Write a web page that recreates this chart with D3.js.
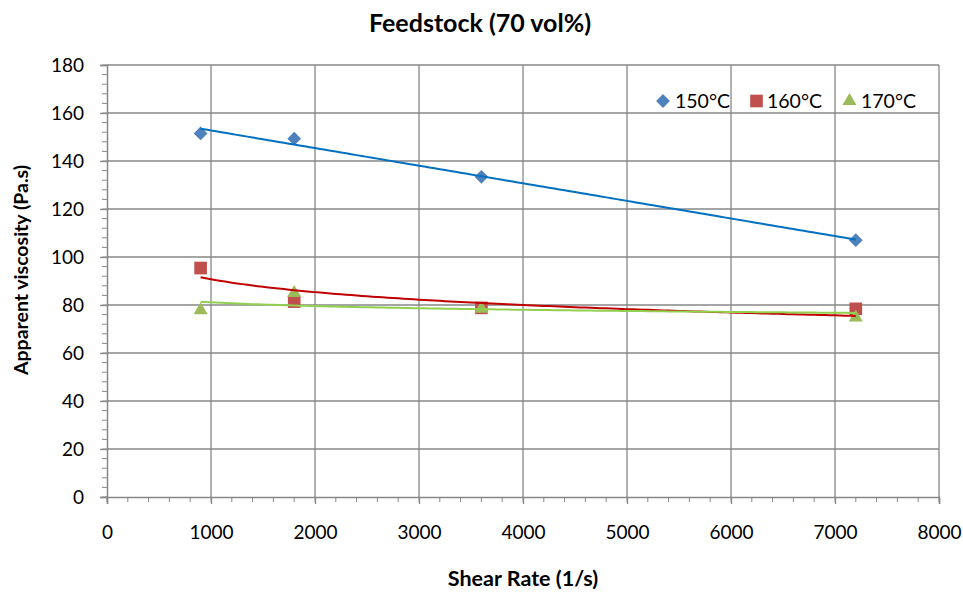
<!DOCTYPE html>
<html><head><meta charset="utf-8">
<script src="https://cdn.jsdelivr.net/npm/d3@7"></script>
<style>body{margin:0;background:#fff}svg{display:block}text{font-family:Lato,"Open Sans",sans-serif}</style>
</head><body>
<svg id="c" width="963" height="593"></svg>
<script>
const shearRate = [900, 1800, 3600, 7200];
const visc150 = [151.5, 149.3, 133.4, 107.0];
const visc160 = [95.4, 81.4, 78.8, 78.4];
const visc170 = [77.8, 85.0, 78.5, 74.8];
const seriesNames = ["150°C", "160°C", "170°C"];
const xTicks = [0,1000,2000,3000,4000,5000,6000,7000,8000];
const yTicks = [0,20,40,60,80,100,120,140,160,180];

const svg = d3.select("#c");
const m = {l:107, r:939, t:65, b:497};
const x = d3.scaleLinear().domain([0,8000]).range([m.l, m.r]);
const y = d3.scaleLinear().domain([0,180]).range([m.b, m.t]);
const grid = "#878787";

// gridlines
svg.append("g").selectAll("line").data(yTicks.slice(1)).join("line")
  .attr("x1", m.l).attr("x2", m.r).attr("y1", d=>y(d)).attr("y2", d=>y(d))
  .attr("stroke", grid).attr("stroke-width", 1.3);
svg.append("g").selectAll("line").data(xTicks.slice(1)).join("line")
  .attr("y1", m.t).attr("y2", m.b).attr("x1", d=>x(d)).attr("x2", d=>x(d))
  .attr("stroke", grid).attr("stroke-width", 1.3);

// minor ticks
const yMinor = d3.range(0, 181, 4);
svg.append("g").selectAll("line").data(yMinor).join("line")
  .attr("x1", m.l-5).attr("x2", m.l).attr("y1", d=>y(d)).attr("y2", d=>y(d))
  .attr("stroke", grid).attr("stroke-width", 1);
const xMinor = d3.range(0, 8001, 200);
svg.append("g").selectAll("line").data(xMinor).join("line")
  .attr("y1", m.b).attr("y2", m.b+5).attr("x1", d=>x(d)).attr("x2", d=>x(d))
  .attr("stroke", grid).attr("stroke-width", 1);

// axes
const yAxis = d3.axisLeft(y).tickValues(yTicks).tickSize(7).tickPadding(16);
const gy = svg.append("g").attr("transform", `translate(${m.l},0)`).call(yAxis);
const xAxis = d3.axisBottom(x).tickValues(xTicks).tickSize(7).tickPadding(22).tickFormat(d3.format("d"));
const gx = svg.append("g").attr("transform", `translate(0,${m.b})`).call(xAxis);
[gx, gy].forEach(g => {
  g.select(".domain").attr("stroke", grid).attr("stroke-width", 1.5);
  g.selectAll(".tick line").attr("stroke", grid).attr("stroke-width", 1.3);
  g.selectAll(".tick text").attr("fill", "#000").style("font-size", "19px").style("font-family", "Lato, sans-serif");
});
gy.selectAll(".tick text").attr("dy", "0.36em");

// fits (Excel-style trendlines: linear for 150°C, logarithmic for others)
function linFit(xs, ys){
  const mx=d3.mean(xs), my=d3.mean(ys);
  const b=d3.sum(xs.map((v,i)=>(v-mx)*(ys[i]-my)))/d3.sum(xs.map(v=>(v-mx)**2));
  return v => my + b*(v-mx);
}
function logFit(xs, ys){
  const f = linFit(xs.map(Math.log), ys);
  return v => f(Math.log(v));
}
const series = [
  {vals: visc150, color:"#4F81BD", line:"#0070C0", fit: linFit, sym: d3.symbolSquare, size: 95, rot: 45},
  {vals: visc160, color:"#C0504D", line:"#C00000", fit: logFit, sym: d3.symbolSquare, size: 160, rot: 0},
  {vals: visc170, color:"#9BBB59", line:"#92D050", fit: logFit, sym: d3.symbolTriangle, size: 85, rot: 0}
];
const xs = d3.range(900, 7201, 50);
series.forEach(s => { s.f = s.fit(shearRate, s.vals); });

series.forEach(s => {
  svg.append("g").selectAll("path").data(shearRate).join("path")
    .attr("d", d3.symbol().type(s.sym).size(s.size))
    .attr("transform", (d,i)=>`translate(${x(d)},${y(s.vals[i])}) rotate(${s.rot})`)
    .attr("fill", s.color);
});
series.forEach(s => {
  svg.append("path").datum(xs)
    .attr("d", d3.line().x(d=>x(d)).y(d=>y(s.f(d))))
    .attr("fill","none").attr("stroke", s.line).attr("stroke-width", 2);
});

// legend
const leg = [{x:663, tx:675},{x:756.5, tx:767},{x:849.5, tx:861}];
series.forEach((s, i) => {
  svg.append("path").attr("d", d3.symbol().type(s.sym).size(s.size))
    .attr("transform", `translate(${leg[i].x},${101}) rotate(${s.rot})`)
    .attr("fill", s.color);
  svg.append("text").attr("x", leg[i].tx).attr("y", 108).text(seriesNames[i])
    .style("font-size","19.5px").attr("fill","#000");
});

// titles
svg.append("text").attr("x", 480).attr("y", 32).attr("text-anchor","middle")
  .style("font-size","25px").style("font-weight","bold").text("Feedstock (70 vol%)");
svg.append("text").attr("x", 523).attr("y", 586).attr("text-anchor","middle")
  .style("font-size","21.5px").style("font-weight","bold").text("Shear Rate (1/s)");
svg.append("text").attr("transform","translate(28,270) rotate(-90)").attr("text-anchor","middle")
  .style("font-size","19.5px").style("font-weight","bold").text("Apparent viscosity (Pa.s)");
</script>
</body></html>
